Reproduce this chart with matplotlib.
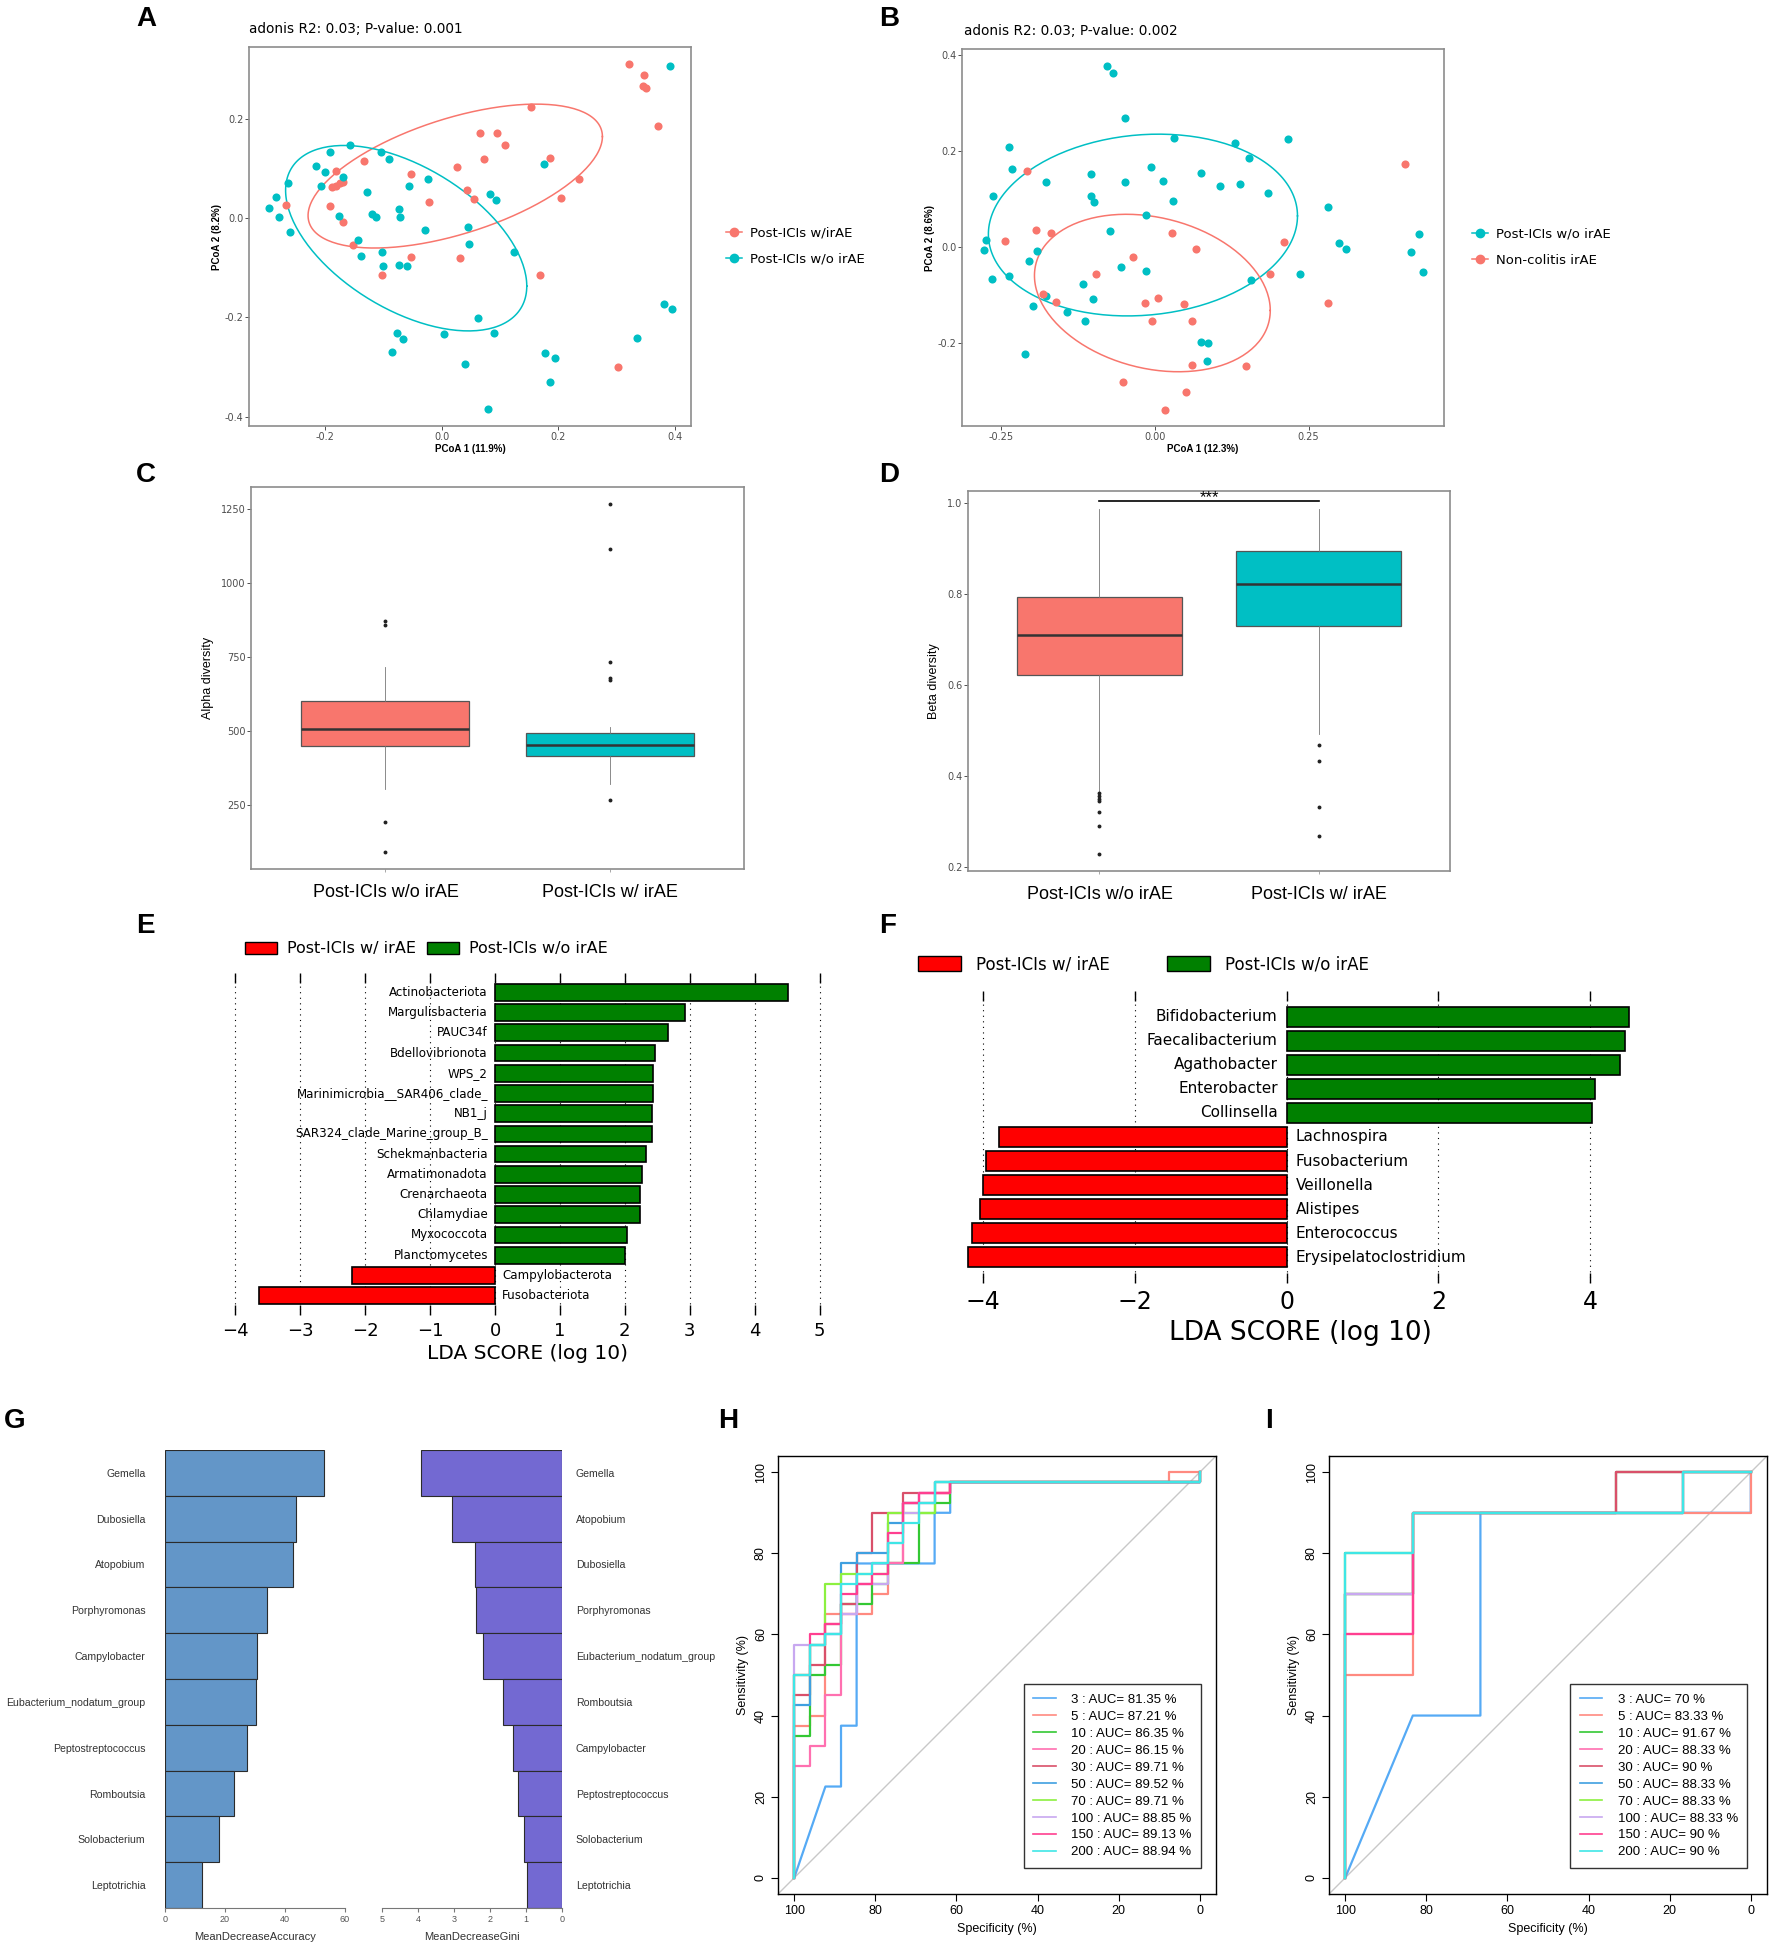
import numpy as np
import matplotlib
matplotlib.use("Agg")
import matplotlib.pyplot as plt
from matplotlib.lines import Line2D
from matplotlib.patches import Patch

W, H = 1772, 1952
plt.rcParams['font.family'] = ['Liberation Sans', 'DejaVu Sans']
NARROW = ['Liberation Sans Narrow', 'DejaVu Sans']

RED = '#F8766D'
CYAN = '#00BFC4'

# ---------------- data ----------------
# A: PCoA, Post-ICIs w/irAE vs w/o irAE
a_red_x = [0.322, 0.348, 0.345, 0.351, 0.372, 0.153, 0.066, 0.095, 0.108, 0.073, 0.186, 0.027,
           -0.053, -0.134, -0.182, -0.188, -0.181, -0.175, -0.170, 0.043, 0.055, -0.022, 0.236,
           0.205, -0.192, -0.268, -0.170, -0.153, -0.052, 0.031, -0.102, 0.168, 0.303]
a_red_y = [0.311, 0.289, 0.266, 0.262, 0.186, 0.224, 0.172, 0.171, 0.147, 0.119, 0.121, 0.103,
           0.089, 0.115, 0.096, 0.062, 0.065, 0.070, 0.073, 0.057, 0.039, 0.032, 0.079,
           0.041, 0.024, 0.026, -0.008, -0.054, -0.079, -0.081, -0.115, -0.115, -0.301]
a_cyan_x = [0.392, -0.158, -0.192, -0.104, -0.090, -0.216, -0.201, -0.170, -0.264, -0.207, -0.024,
            -0.056, -0.128, -0.284, -0.296, -0.280, -0.177, -0.119, -0.113, -0.074, -0.072, 0.083,
            0.093, 0.175, -0.261, -0.029, -0.143, -0.139, -0.103, -0.101, -0.073, -0.060, 0.045,
            0.046, 0.124, 0.062, 0.090, -0.077, -0.067, -0.086, 0.003, 0.040, 0.178, 0.195, 0.186,
            0.079, 0.335, 0.381, 0.396]
a_cyan_y = [0.306, 0.147, 0.134, 0.133, 0.119, 0.106, 0.094, 0.082, 0.070, 0.064, 0.079,
            0.065, 0.052, 0.042, 0.021, 0.003, 0.005, 0.008, 0.002, 0.019, 0.003, 0.049,
            0.036, 0.110, -0.028, -0.024, -0.045, -0.076, -0.069, -0.096, -0.095, -0.096, -0.017,
            -0.053, -0.069, -0.201, -0.231, -0.232, -0.244, -0.270, -0.234, -0.295, -0.271, -0.281, -0.330,
            -0.384, -0.242, -0.174, -0.183]

# B: PCoA, Post-ICIs w/o irAE vs Non-colitis irAE
b_cyan_x = [-0.078, -0.068, -0.049, 0.031, 0.217, 0.130, 0.154, -0.237, -0.232, -0.006, 0.075,
            -0.104, -0.176, -0.049, 0.013, 0.106, 0.138, 0.184, -0.262, -0.104, -0.099, 0.029,
            0.281, -0.014, -0.073, -0.274, -0.278, -0.191, -0.204, -0.264, -0.237, -0.055, -0.014,
            -0.116, -0.100, -0.176, -0.198, -0.142, -0.114, 0.157, 0.236, 0.299, 0.311, 0.429,
            0.417, 0.436, 0.076, 0.086, 0.085, -0.210]
b_cyan_y = [0.378, 0.363, 0.270, 0.228, 0.225, 0.216, 0.185, 0.209, 0.163, 0.167, 0.154,
            0.152, 0.135, 0.136, 0.138, 0.126, 0.131, 0.112, 0.106, 0.106, 0.093, 0.095,
            0.083, 0.067, 0.034, 0.015, -0.006, -0.009, -0.030, -0.067, -0.061, -0.042, -0.050,
            -0.077, -0.109, -0.102, -0.124, -0.136, -0.154, -0.069, -0.056, 0.007, -0.004, 0.026,
            -0.010, -0.052, -0.199, -0.201, -0.239, -0.224]
b_red_x = [0.406, -0.208, -0.243, -0.192, -0.169, 0.028, 0.067, 0.210, -0.036, -0.096, 0.187,
           -0.182, -0.160, 0.006, -0.015, 0.048, 0.281, -0.004, 0.061, 0.061, 0.148, -0.052,
           0.051, 0.016]
b_red_y = [0.173, 0.159, 0.013, 0.035, 0.029, 0.028, -0.005, 0.010, -0.021, -0.056, -0.057,
           -0.099, -0.115, -0.106, -0.118, -0.120, -0.118, -0.155, -0.154, -0.246, -0.248, -0.282,
           -0.303, -0.340]

# C / D: box plot statistics
groups_cd = ['Post-ICIs w/o irAE', 'Post-ICIs w/ irAE']
c_q1 = [450, 416]
c_med = [509, 453]
c_q3 = [604, 496]
c_whislo = [304, 322]
c_whishi = [717, 516]
c_fliers = [[872, 860, 193, 91], [1269, 1116, 736, 682, 674, 268]]

d_q1 = [0.622, 0.730]
d_med = [0.711, 0.823]
d_q3 = [0.794, 0.896]
d_whislo = [0.365, 0.492]
d_whishi = [0.988, 0.987]
d_fliers = [[0.363, 0.355, 0.349, 0.346, 0.321, 0.289, 0.228], [0.468, 0.433, 0.332, 0.269]]

# E: LEfSe phylum level
e_taxa = ['Actinobacteriota', 'Margulisbacteria', 'PAUC34f', 'Bdellovibrionota', 'WPS_2',
          'Marinimicrobia__SAR406_clade_', 'NB1_j', 'SAR324_clade_Marine_group_B_',
          'Schekmanbacteria', 'Armatimonadota', 'Crenarchaeota', 'Chlamydiae', 'Myxococcota',
          'Planctomycetes', 'Campylobacterota', 'Fusobacteriota']
e_lda = [4.52, 2.93, 2.67, 2.47, 2.44, 2.43, 2.42, 2.42, 2.33, 2.26, 2.24, 2.23, 2.03, 2.01,
         -2.20, -3.63]

# F: LEfSe genus level
f_taxa = ['Bifidobacterium', 'Faecalibacterium', 'Agathobacter', 'Enterobacter', 'Collinsella',
          'Lachnospira', 'Fusobacterium', 'Veillonella', 'Alistipes', 'Enterococcus',
          'Erysipelatoclostridium']
f_lda = [4.51, 4.46, 4.39, 4.06, 4.03, -3.80, -3.97, -4.00, -4.04, -4.15, -4.20]

# G: random forest importance
g_acc_taxa = ['Gemella', 'Dubosiella', 'Atopobium', 'Porphyromonas', 'Campylobacter',
              'Eubacterium_nodatum_group', 'Peptostreptococcus', 'Romboutsia', 'Solobacterium',
              'Leptotrichia']
g_acc = [53.0, 43.6, 42.8, 34.0, 30.7, 30.2, 27.3, 22.9, 18.0, 12.2]
g_gini_taxa = ['Gemella', 'Atopobium', 'Dubosiella', 'Porphyromonas', 'Eubacterium_nodatum_group',
               'Romboutsia', 'Campylobacter', 'Peptostreptococcus', 'Solobacterium', 'Leptotrichia']
g_gini = [3.91, 3.05, 2.42, 2.39, 2.20, 1.65, 1.37, 1.23, 1.06, 0.97]

# H / I: ROC curves (sensitivity for each specificity step, None = tied step)
roc_trees = ['3', '5', '10', '20', '30', '50', '70', '100', '150', '200']
roc_colors = ['#55AAF5', '#FF8A80', '#33C833', '#FF70B0', '#D9506A', '#3FA0E0', '#8CF040',
              '#C8A8F0', '#FF3F90', '#3FE6E6']
h_auc = ['81.35', '87.21', '86.35', '86.15', '89.71', '89.52', '89.71', '88.85', '89.13', '88.94']
h_levels = [
    [None, None, 22.5, 37.5, 77.5, 77.5, 77.5, 77.5, 77.5, 90] + [97.5] * 16,
    [37.5, 40, 65, 65, 65, 70, 77.5, 92.5, 92.5, 95] + [97.5] * 14 + [100] * 2,
    [35, 50, 52.5, 67.5, 67.5, 72.5, 77.5, 77.5, 90, 92.5] + [97.5] * 16,
    [27.5, 32.5, 45, 65, 72.5, 77.5, 77.5, 92.5, 95, 95] + [97.5] * 16,
    [45, 52.5, 62.5, 67.5, 80, 90, 90, 95, 95, 95] + [97.5] * 16,
    [42.5, 57.5, 60, 77.5, 80, 80, 87.5, 92.5, 92.5] + [97.5] * 17,
    [50, 57.5, 72.5, 75, 75, 75, 90, 90, 90] + [97.5] * 17,
    [57.5, 57.5, 60, 65, 72.5, 72.5, 82.5, 90, 95] + [97.5] * 17,
    [50, 60, 62.5, 70, 72.5, 75, 85, 92.5, 95, 95] + [97.5] * 16,
    [50, 57.5, 60, 72.5, 75, 77.5, 82.5, 87.5, 92.5] + [97.5] * 17,
]
i_auc = ['70', '83.33', '91.67', '88.33', '90', '88.33', '88.33', '88.33', '90', '90']
i_levels = [
    [None, 40, 90, 90, 90, 90],
    [50, 90, 90, 90, 90, 90],
    [80, 90, 90, 90, 100, 100],
    [60, 90, 90, 90, 100, 100],
    [70, 90, 90, 90, 100, 100],
    [70, 90, 90, 90, 90, 100],
    [70, 90, 90, 90, 90, 100],
    [70, 90, 90, 90, 90, 100],
    [60, 90, 90, 90, 90, 100],
    [80, 90, 90, 90, 90, 100],
]

# ---------------- helpers ----------------
fig = plt.figure(figsize=(W / 100, H / 100), dpi=100)


def px_axes(x0, y0, x1, y1):
    return fig.add_axes([x0 / W, 1 - y1 / H, (x1 - x0) / W, (y1 - y0) / H])


def panel_label(x, y, s):
    fig.text(x / W, 1 - y / H, s, fontsize=20, fontweight='bold', ha='left', va='top')


def t_ellipse(x, y, level=0.63, nu=5):
    # same idea as ggplot2 stat_ellipse (multivariate t, MASS::cov.trob)
    X = np.column_stack([x, y])
    n, p = X.shape
    loc = X.mean(0)
    w = np.ones(n)
    for _ in range(25):
        w0 = w.copy()
        Xc = X - loc
        S = (w[:, None] * Xc).T @ Xc / w.sum()
        Q = np.einsum('ij,jk,ik->i', Xc, np.linalg.inv(S), Xc)
        w = (nu + p) / (nu + Q)
        loc = (w[:, None] * X).sum(0) / w.sum()
        if np.all(np.abs(w - w0) < 0.01):
            break
    cov = (w[:, None] * Xc).T @ Xc / n
    d2 = n - 1
    fq = d2 / 2 * ((1 - level) ** (-2 / d2) - 1)
    r = np.sqrt(2 * fq)
    R = np.linalg.cholesky(cov).T
    t = np.linspace(0, 2 * np.pi, 200)
    pts = loc + r * np.column_stack([np.cos(t), np.sin(t)]) @ R
    return pts[:, 0], pts[:, 1]


def gg_frame(ax):
    for s in ax.spines.values():
        s.set_color('#8C8C8C')
        s.set_linewidth(1.2)
    ax.tick_params(length=3, width=0.6, color='#333333', labelsize=7, labelcolor='#4D4D4D', pad=1)
    for lab in ax.get_xticklabels() + ax.get_yticklabels():
        lab.set_family(NARROW)


def roc_path(levels, n_neg):
    spec = 100 * (1 - np.arange(n_neg + 1) / n_neg)
    xs, ys = [100.0], [0.0]
    for i, lev in enumerate(levels):
        if lev is None:
            continue
        xs += [spec[i], spec[i + 1]]
        ys += [lev, lev]
    xs.append(0.0)
    ys.append(100.0)
    return xs, ys


# ---------------- A ----------------
panel_label(136, 6, 'A')
ax = px_axes(249, 47, 691, 426)
ax.scatter(a_red_x, a_red_y, s=34, color=RED, lw=0, zorder=3)
ax.scatter(a_cyan_x, a_cyan_y, s=34, color=CYAN, lw=0, zorder=3)
ex, ey = t_ellipse(a_red_x, a_red_y)
ax.plot(ex, ey, color=RED, lw=1.1)
ex, ey = t_ellipse(a_cyan_x, a_cyan_y)
ax.plot(ex, ey, color=CYAN, lw=1.1)
ax.set_xlim(-0.331, 0.428)
ax.set_ylim(-0.419, 0.345)
ax.set_xticks([-0.2, 0.0, 0.2, 0.4])
ax.set_xticklabels(['-0.2', '0.0', '0.2', '0.4'])
ax.set_yticks([-0.4, -0.2, 0.0, 0.2])
ax.set_yticklabels(['-0.4', '-0.2', '0.0', '0.2'])
gg_frame(ax)
ax.set_xlabel('PCoA 1 (11.9%)', fontsize=7, fontweight='bold', labelpad=2)
ax.set_ylabel('PCoA 2 (8.2%)', fontsize=7, fontweight='bold', labelpad=2)
ax.set_title('adonis R2: 0.03; P-value: 0.001', fontsize=9.8, family=NARROW, loc='left', pad=10)
leg_a = [Line2D([], [], color=RED, marker='o', ms=6, lw=1.1),
         Line2D([], [], color=CYAN, marker='o', ms=6, lw=1.1)]
fig.legend(leg_a, ['Post-ICIs w/irAE', 'Post-ICIs w/o irAE'], loc='center left',
           bbox_to_anchor=(714 / W, 1 - 246 / H), frameon=False, handlelength=1.2,
           handletextpad=0.6, labelspacing=1.0, prop={'family': NARROW, 'size': 9.5})

# ---------------- B ----------------
panel_label(879, 6, 'B')
ax = px_axes(962, 49, 1444, 426)
ax.scatter(b_cyan_x, b_cyan_y, s=34, color=CYAN, lw=0, zorder=3)
ax.scatter(b_red_x, b_red_y, s=34, color=RED, lw=0, zorder=3)
ex, ey = t_ellipse(b_cyan_x, b_cyan_y)
ax.plot(ex, ey, color=CYAN, lw=1.1)
ex, ey = t_ellipse(b_red_x, b_red_y)
ax.plot(ex, ey, color=RED, lw=1.1)
ax.set_xlim(-0.313, 0.470)
ax.set_ylim(-0.374, 0.413)
ax.set_xticks([-0.25, 0.0, 0.25])
ax.set_xticklabels(['-0.25', '0.00', '0.25'])
ax.set_yticks([-0.2, 0.0, 0.2, 0.4])
ax.set_yticklabels(['-0.2', '0.0', '0.2', '0.4'])
gg_frame(ax)
ax.set_xlabel('PCoA 1 (12.3%)', fontsize=7, fontweight='bold', labelpad=2)
ax.set_ylabel('PCoA 2 (8.6%)', fontsize=7, fontweight='bold', labelpad=2)
ax.set_title('adonis R2: 0.03; P-value: 0.002', fontsize=9.8, family=NARROW, loc='left',
             pad=10, x=0.004)
leg_b = [Line2D([], [], color=CYAN, marker='o', ms=6, lw=1.1),
         Line2D([], [], color=RED, marker='o', ms=6, lw=1.1)]
fig.legend(leg_b, ['Post-ICIs w/o irAE', 'Non-colitis irAE'], loc='center left',
           bbox_to_anchor=(1460 / W, 1 - 247 / H), frameon=False, handlelength=1.2,
           handletextpad=0.6, labelspacing=1.0, prop={'family': NARROW, 'size': 9.5})


# ---------------- C / D ----------------
def box_panel(ax, q1, med, q3, lo, hi, fliers):
    stats = []
    for k in range(2):
        stats.append({'q1': q1[k], 'med': med[k], 'q3': q3[k], 'whislo': lo[k],
                      'whishi': hi[k], 'fliers': fliers[k]})
    bp = ax.bxp(stats, positions=[1, 2], widths=0.75, patch_artist=True, showcaps=False,
                boxprops={'edgecolor': '#555555', 'linewidth': 0.9},
                whiskerprops={'color': '#777777', 'linewidth': 0.6},
                medianprops={'color': '#333333', 'linewidth': 1.8},
                flierprops={'marker': 'o', 'markersize': 1.8, 'markerfacecolor': '#222222',
                            'markeredgecolor': '#222222'})
    for patch, col in zip(bp['boxes'], [RED, CYAN]):
        patch.set_facecolor(col)
    ax.set_xlim(0.4, 2.6)
    ax.set_xticks([1, 2])
    ax.set_xticklabels(groups_cd)
    gg_frame(ax)
    ax.tick_params(axis='x', labelsize=13, labelcolor='black', pad=9, length=2,
                   color='#999999')
    for lab in ax.get_xticklabels():
        lab.set_family(['Liberation Sans', 'DejaVu Sans'])


panel_label(136, 462, 'C')
ax = px_axes(251, 487, 744, 869)
box_panel(ax, c_q1, c_med, c_q3, c_whislo, c_whishi, c_fliers)
ax.set_ylim(35, 1326)
ax.set_yticks([250, 500, 750, 1000, 1250])
for lab in ax.get_yticklabels():
    lab.set_family(NARROW)
ax.set_ylabel('Alpha diversity', fontsize=9, labelpad=5)

panel_label(879, 462, 'D')
ax = px_axes(968, 491, 1450, 871)
box_panel(ax, d_q1, d_med, d_q3, d_whislo, d_whishi, d_fliers)
ax.set_ylim(0.191, 1.027)
ax.set_yticks([0.2, 0.4, 0.6, 0.8, 1.0])
ax.set_yticklabels(['0.2', '0.4', '0.6', '0.8', '1.0'])
for lab in ax.get_yticklabels():
    lab.set_family(NARROW)
ax.set_ylabel('Beta diversity', fontsize=9, labelpad=5)
ax.plot([1, 2], [1.004, 1.004], color='black', lw=1.2)
ax.text(1.5, 0.997, '***', ha='center', va='bottom', fontsize=12)


# ---------------- E / F ----------------
def lefse_panel(ax, taxa, lda, bar_h, lab_size, off):
    ypos = np.arange(len(taxa))
    cols = ['#008000' if v > 0 else '#FF0000' for v in lda]
    ax.barh(ypos, lda, height=bar_h, color=cols, edgecolor='black', linewidth=1.2, zorder=2)
    for yv, name, v in zip(ypos, taxa, lda):
        if v > 0:
            ax.text(-off, yv, name, ha='right', va='center', fontsize=lab_size, family=NARROW,
                    zorder=4)
        else:
            ax.text(off, yv, name, ha='left', va='center', fontsize=lab_size, family=NARROW,
                    zorder=4)
    for s in ax.spines.values():
        s.set_visible(False)
    ax.set_yticks([])
    ax.grid(axis='x', linestyle=(0, (1, 4)), color='black', linewidth=0.8, zorder=0)
    ax.tick_params(axis='x', direction='in', top=True, bottom=True, length=7, width=1)


panel_label(136, 913, 'E')
ax = px_axes(229, 973, 826, 1315)
lefse_panel(ax, e_taxa, e_lda, 0.83, 8.6, 0.11)
ax.set_xlim(-4.1, 5.1)
ax.set_ylim(len(e_taxa) - 1 + 0.96, -0.96)
ax.set_xticks(range(-4, 6))
ax.tick_params(axis='x', labelsize=13, pad=5)
for lab in ax.get_xticklabels():
    lab.set_family(NARROW)
ax.set_xlabel('LDA SCORE (log 10)', fontsize=14.5, family=NARROW, labelpad=3)
leg_e = [Patch(facecolor='#FF0000', edgecolor='black'), Patch(facecolor='#008000', edgecolor='black')]
fig.legend(leg_e, ['Post-ICIs w/ irAE', 'Post-ICIs w/o irAE'], loc='center left', ncol=2,
           bbox_to_anchor=(231 / W, 1 - 949 / H), frameon=False, handlelength=2.0,
           handleheight=0.75, handletextpad=0.6, columnspacing=0.7,
           prop={'family': NARROW, 'size': 11.5})

panel_label(879, 913, 'F')
ax = px_axes(953, 991, 1647, 1283)
lefse_panel(ax, f_taxa, f_lda, 0.85, 11, 0.12)
ax.set_xlim(-4.4, 4.75)
ax.set_ylim(len(f_taxa) - 1 + 1.07, -1.07)
ax.set_xticks([-4, -2, 0, 2, 4])
ax.tick_params(axis='x', labelsize=17, pad=5)
for lab in ax.get_xticklabels():
    lab.set_family(NARROW)
ax.set_xlabel('LDA SCORE (log 10)', fontsize=19, family=NARROW, labelpad=4)
fig.legend(leg_e, ['Post-ICIs w/ irAE', 'Post-ICIs w/o irAE'], loc='center left', ncol=2,
           bbox_to_anchor=(903 / W, 1 - 964 / H), frameon=False, handlelength=2.6,
           handleheight=1.0, handletextpad=0.9, columnspacing=3.4,
           prop={'family': NARROW, 'size': 12})

# ---------------- G ----------------
panel_label(4, 1408, 'G')
ax = px_axes(165, 1450, 345, 1908)
yy = np.arange(len(g_acc_taxa))
ax.barh(yy, g_acc, height=1.0, color='#6396C8', edgecolor='#2B2B2B', linewidth=0.8)
ax.set_xlim(0, 60)
ax.set_ylim(len(g_acc_taxa) - 0.5, -0.5)
ax.set_yticks(yy)
ax.set_yticklabels(g_acc_taxa, fontsize=7.6, color='#333333')
ax.tick_params(axis='y', length=0, pad=14)
ax.set_xticks([0, 20, 40, 60])
ax.tick_params(axis='x', labelsize=6.5, labelcolor='#555555', color='#777777', length=3, pad=2)
for s in ['left', 'top', 'right']:
    ax.spines[s].set_visible(False)
ax.spines['bottom'].set_color('#777777')
ax.set_xlabel('MeanDecreaseAccuracy', fontsize=8, color='#333333', labelpad=6)

ax = px_axes(382, 1450, 562, 1908)
ax.barh(yy, g_gini, height=1.0, color='#7369D2', edgecolor='#2B2B2B', linewidth=0.8)
ax.set_xlim(5, 0)
ax.set_ylim(len(g_gini_taxa) - 0.5, -0.5)
ax.yaxis.tick_right()
ax.set_yticks(yy)
ax.set_yticklabels(g_gini_taxa, fontsize=7.6, color='#333333')
ax.tick_params(axis='y', length=0, pad=10)
ax.set_xticks([5, 4, 3, 2, 1, 0])
ax.tick_params(axis='x', labelsize=6.5, labelcolor='#555555', color='#777777', length=3, pad=2)
for s in ['left', 'top', 'right']:
    ax.spines[s].set_visible(False)
ax.spines['bottom'].set_color('#777777')
ax.set_xlabel('MeanDecreaseGini', fontsize=8, color='#333333', labelpad=6)


# ---------------- H / I ----------------
def roc_panel(ax, levels, aucs, n_neg, leg_anchor):
    ax.axline((100, 0), (0, 100), color='#C8C8C8', lw=1.0, zorder=1)
    handles = []
    for lev, col in zip(levels, roc_colors):
        xs, ys = roc_path(lev, n_neg)
        ax.plot(xs, ys, color=col, lw=1.6, zorder=2)
        handles.append(Line2D([], [], color=col, lw=1.2))
    labels = [f'{t} : AUC= {a} %' for t, a in zip(roc_trees, aucs)]
    leg = ax.legend(handles, labels, loc='lower right', bbox_to_anchor=leg_anchor, fontsize=9.5,
                    frameon=True, fancybox=False, edgecolor='black', handlelength=1.7,
                    handletextpad=1.2, labelspacing=0.36, borderpad=0.7, borderaxespad=0)
    leg.get_frame().set_linewidth(1.0)
    ax.set_xlim(104, -4)
    ax.set_ylim(-4, 104)
    ticks = [100, 80, 60, 40, 20, 0]
    ax.set_xticks(ticks)
    ax.set_yticks(ticks)
    for lab in ax.get_yticklabels():
        lab.set_rotation(90)
        lab.set_va('center')
    ax.tick_params(labelsize=9, length=5, width=0.8, pad=3)
    for s in ax.spines.values():
        s.set_linewidth(1.0)
    ax.set_xlabel('Specificity (%)', fontsize=9, labelpad=4)
    ax.set_ylabel('Sensitivity (%)', fontsize=9, labelpad=4)


panel_label(718, 1408, 'H')
ax = px_axes(778, 1456, 1216, 1894)
roc_panel(ax, h_levels, h_auc, 26, (0.966, 0.06))

panel_label(1265, 1408, 'I')
ax = px_axes(1329, 1456, 1767, 1894)
roc_panel(ax, i_levels, i_auc, 6, (0.955, 0.06))

fig.savefig('out.png', dpi=100)
